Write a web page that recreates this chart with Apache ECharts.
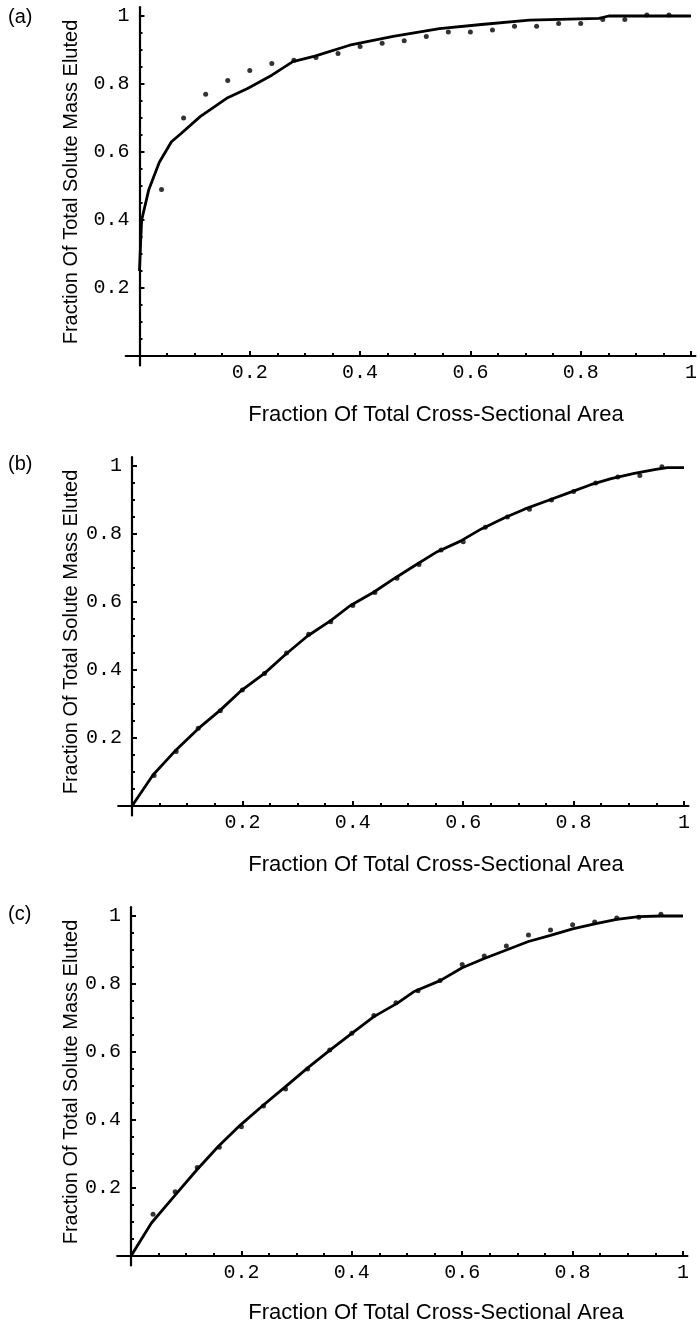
<!DOCTYPE html>
<html>
<head>
<meta charset="utf-8">
<script src="https://cdn.jsdelivr.net/npm/echarts@6/dist/echarts.min.js"></script>
<style>
html,body{margin:0;padding:0;background:#fff;}
#chart{width:700px;height:1325px;}
</style>
</head>
<body>
<div id="chart"></div>
<script>
// ---------- DATA ----------
const panelLabels = ['(a)', '(b)', '(c)'];
const xTitle = 'Fraction Of Total Cross-Sectional Area';
const yTitle = 'Fraction Of Total Solute Mass Eluted';

const majorTicks = [0.2, 0.4, 0.6, 0.8, 1];
const majorTickLabels = ['0.2', '0.4', '0.6', '0.8', '1'];
const minorTicks = [0.05, 0.1, 0.15, 0.25, 0.3, 0.35, 0.45, 0.5, 0.55, 0.65, 0.7, 0.75, 0.85, 0.9, 0.95];

const dotX = [0.04, 0.08, 0.12, 0.16, 0.20, 0.24, 0.28, 0.32, 0.36, 0.40, 0.44, 0.48,
              0.52, 0.56, 0.60, 0.64, 0.68, 0.72, 0.76, 0.80, 0.84, 0.88, 0.92, 0.96];

const aDotY = [0.49, 0.70, 0.77, 0.81, 0.84, 0.86, 0.87, 0.878, 0.89, 0.91, 0.92, 0.927,
               0.94, 0.953, 0.953, 0.959, 0.97, 0.97, 0.978, 0.978, 0.99, 0.99, 1.003, 1.003];
const aCurveX = [0, 0.002, 0.004, 0.017, 0.036, 0.058, 0.076, 0.11, 0.158, 0.196, 0.24, 0.278,
                 0.318, 0.381, 0.46, 0.544, 0.62, 0.707, 0.833, 0.851, 1.0];
const aCurveY = [0.25, 0.33, 0.40, 0.49, 0.57, 0.63, 0.655, 0.704, 0.758, 0.787, 0.826, 0.866,
                 0.882, 0.914, 0.94, 0.963, 0.975, 0.988, 0.993, 1.0, 1.0];

const bDotY = [0.09, 0.16, 0.229, 0.28, 0.341, 0.39, 0.45, 0.505, 0.542, 0.59, 0.628, 0.67,
               0.71, 0.753, 0.777, 0.82, 0.85, 0.873, 0.9, 0.925, 0.95, 0.968, 0.972, 0.998];
const bCurveX = [0, 0.038, 0.077, 0.121, 0.16, 0.199, 0.24, 0.279, 0.318, 0.36, 0.395, 0.437,
                 0.476, 0.511, 0.553, 0.595, 0.633, 0.675, 0.711, 0.751, 0.791, 0.831, 0.868,
                 0.91, 0.949, 0.97, 1.0];
const bCurveY = [0, 0.091, 0.16, 0.229, 0.282, 0.341, 0.39, 0.447, 0.5, 0.545, 0.589, 0.628,
                 0.67, 0.706, 0.748, 0.779, 0.815, 0.848, 0.873, 0.897, 0.921, 0.945, 0.963,
                 0.978, 0.99, 0.995, 0.995];

const cDotY = [0.123, 0.189, 0.26, 0.32, 0.38, 0.441, 0.491, 0.55, 0.606, 0.655, 0.707, 0.745,
               0.78, 0.81, 0.857, 0.882, 0.912, 0.944, 0.959, 0.974, 0.982, 0.994, 0.996, 1.005];
const cCurveX = [0, 0.037, 0.08, 0.119, 0.158, 0.198, 0.24, 0.28, 0.319, 0.361, 0.4, 0.44,
                 0.482, 0.512, 0.56, 0.6, 0.64, 0.68, 0.72, 0.76, 0.8, 0.84, 0.88, 0.92, 0.96, 1.0];
const cCurveY = [0, 0.097, 0.179, 0.253, 0.322, 0.385, 0.444, 0.498, 0.552, 0.606, 0.655, 0.704,
                 0.743, 0.777, 0.81, 0.848, 0.875, 0.9, 0.925, 0.943, 0.962, 0.977, 0.99, 0.998, 1.0, 1.0];

const curvesX = [aCurveX, bCurveX, cCurveX];
const curvesY = [aCurveY, bCurveY, cCurveY];
const dotsY = [aDotY, bDotY, cDotY];

// ---------- LAYOUT ----------
const xMin = -0.025, xMax = 1.008, yMin = -0.028, yMax = 1.026;
// origin pixel and pixel-per-unit for each panel
const layout = [
  {x0: 139.5, y0: 356, sx: 552.5, sy: 340, labelY: 18, titleX: 436, titleY: 415, yTitleY: 182},
  {x0: 132, y0: 806, sx: 552, sy: 340, labelY: 465, titleX: 436, titleY: 865, yTitleY: 632},
  {x0: 131, y0: 1256, sx: 552, sy: 340, labelY: 915, titleX: 436, titleY: 1313, yTitleY: 1082}
];

const monoFont = {fontFamily: '"Liberation Mono", "DejaVu Sans Mono", monospace', fontSize: 20, color: '#000'};
const sansFont = '"Liberation Sans", Arial, sans-serif';

const grids = [], xAxes = [], yAxes = [], series = [], graphics = [];
layout.forEach((L, g) => {
  grids.push({
    left: L.x0 + xMin * L.sx,
    width: (xMax - xMin) * L.sx,
    top: L.y0 - yMax * L.sy,
    height: (yMax - yMin) * L.sy,
    containLabel: false
  });
  // labels are placed from the grid edge; shift them back next to the zero line
  const xLabelMargin = 7 + yMin * L.sy;   // yMin negative
  const yLabelMargin = 10 + xMin * L.sx;  // xMin negative
  const majorX = {
    type: 'value', gridIndex: g, position: 'bottom', min: xMin, max: xMax,
    axisLine: {show: true, onZero: true, lineStyle: {color: '#000', width: 2.2}},
    axisTick: {show: true, inside: true, length: 5, customValues: majorTicks, lineStyle: {color: '#000', width: 2}},
    axisLabel: {show: true, margin: xLabelMargin, customValues: majorTicks,
      formatter: v => majorTickLabels[majorTicks.findIndex(t => Math.abs(t - v) < 1e-6)] || '',
      ...monoFont},
    splitLine: {show: false}
  };
  const minorX = {
    type: 'value', gridIndex: g, position: 'bottom', min: xMin, max: xMax,
    axisLine: {show: false, onZero: true},
    axisTick: {show: true, inside: true, length: 3, customValues: minorTicks, lineStyle: {color: '#000', width: 2}},
    axisLabel: {show: false},
    splitLine: {show: false}
  };
  const majorY = {
    type: 'value', gridIndex: g, position: 'left', min: yMin, max: yMax,
    axisLine: {show: true, onZero: true, lineStyle: {color: '#000', width: 2.2}},
    axisTick: {show: true, inside: true, length: 5, customValues: majorTicks, lineStyle: {color: '#000', width: 2}},
    axisLabel: {show: true, margin: yLabelMargin, customValues: majorTicks,
      formatter: v => majorTickLabels[majorTicks.findIndex(t => Math.abs(t - v) < 1e-6)] || '',
      ...monoFont},
    splitLine: {show: false}
  };
  const minorY = {
    type: 'value', gridIndex: g, position: 'left', min: yMin, max: yMax,
    axisLine: {show: false, onZero: true},
    axisTick: {show: true, inside: true, length: 3, customValues: minorTicks, lineStyle: {color: '#000', width: 2}},
    axisLabel: {show: false},
    splitLine: {show: false}
  };
  xAxes.push(majorX, minorX);
  yAxes.push(majorY, minorY);

  series.push({
    type: 'line', xAxisIndex: 2 * g, yAxisIndex: 2 * g,
    data: curvesX[g].map((x, i) => [x, curvesY[g][i]]),
    showSymbol: false, smooth: false,
    lineStyle: {color: '#000', width: 2.8},
    z: 3, silent: true
  });
  series.push({
    type: 'scatter', xAxisIndex: 2 * g, yAxisIndex: 2 * g,
    data: dotX.map((x, i) => [x, dotsY[g][i]]),
    symbol: 'circle', symbolSize: 5,
    itemStyle: {color: '#000'},
    z: 4, silent: true
  });

  graphics.push({
    type: 'text', left: 8, top: L.labelY - 11,
    style: {text: panelLabels[g], font: '20px ' + sansFont, fill: '#000'}
  });
  graphics.push({
    type: 'text', x: L.titleX, y: L.titleY,
    style: {text: xTitle, font: '22px ' + sansFont, fill: '#000', textAlign: 'center', textVerticalAlign: 'middle'}
  });
  graphics.push({
    type: 'text', x: 71, y: L.yTitleY, rotation: Math.PI / 2,
    style: {text: yTitle, font: '20px ' + sansFont, fill: '#000', textAlign: 'center', textVerticalAlign: 'middle'}
  });
});

const chart = echarts.init(document.getElementById('chart'), null, {renderer: 'canvas'});
chart.setOption({
  animation: false,
  backgroundColor: '#fff',
  grid: grids,
  xAxis: xAxes,
  yAxis: yAxes,
  series: series,
  graphic: graphics
});
</script>
</body>
</html>
